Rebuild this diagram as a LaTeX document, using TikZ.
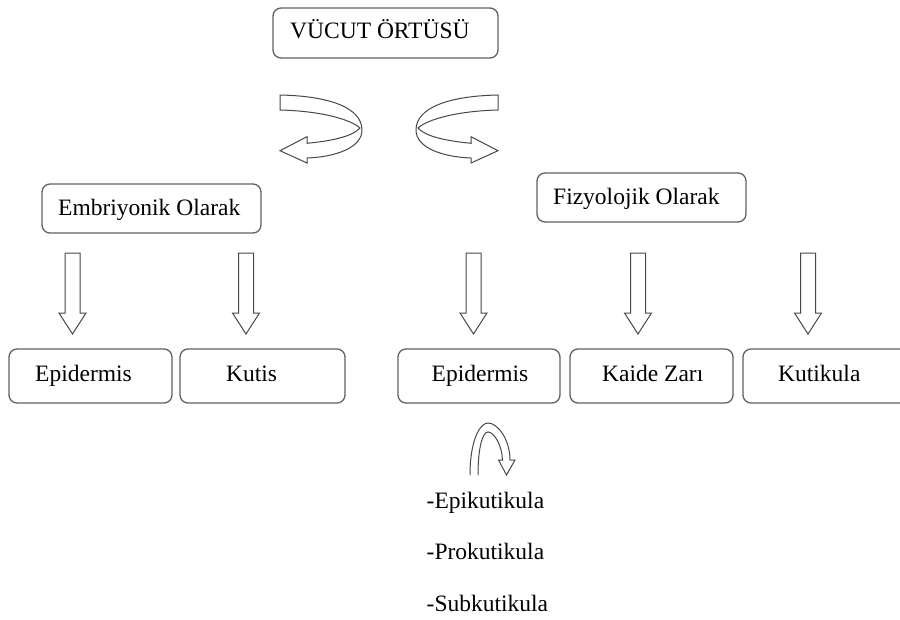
\documentclass[tikz,border=0pt]{standalone}
\usepackage{fontspec}
\setmainfont{Liberation Serif}
\begin{document}
\begin{tikzpicture}[x=1pt,y=-1pt,
  box/.style={draw=black!62,line width=1.3pt,rounded corners=8pt},
  lbl/.style={anchor=base west,inner sep=0pt,font=\fontsize{23.5}{28}\selectfont,text=black},
  arrowline/.style={draw=black!72,line width=1pt,line join=miter,fill=white},
  blockarrow/.pic={\path[arrowline] (-7.5,0) -- (-7.5,60) -- (-13.5,60) -- (0,81) -- (13.5,60) -- (7.5,60) -- (7.5,0) -- cycle;},
  ribbon/.pic={\path[arrowline] (0,0) .. controls (50,1) and (82,13) .. (82,35)
      .. controls (82,53) and (55,62) .. (27,63) -- (27,68) -- (0,55.7) -- (27,41.7) -- (27,48.3)
      .. controls (50,46) and (72,42) .. (80,33)
      .. controls (70,24) and (40,16) .. (0,15) -- cycle;}
]
\useasboundingbox (0,0) rectangle (900,619);
% boxes
\node[box,minimum width=225pt,minimum height=50pt] (top) at (385.5,33) {};
\node[box,minimum width=219pt,minimum height=49pt] (emb) at (151.5,208.5) {};
\node[box,minimum width=209pt,minimum height=49pt] (fiz) at (641.5,197.5) {};
\node[box,minimum width=163pt,minimum height=54pt] (epi1) at (90.5,376) {};
\node[box,minimum width=165pt,minimum height=54pt] (kut) at (262.5,376) {};
\node[box,minimum width=162pt,minimum height=54pt] (epi2) at (479,376) {};
\node[box,minimum width=163pt,minimum height=54pt] (kai) at (651.5,376) {};
\node[box,minimum width=170pt,minimum height=54pt] (ktk) at (828,376) {};
% labels
\node[lbl] (ttop) at (290,38.5) {VÜCUT ÖRTÜSÜ};
\node[lbl] (temb) at (58,215) {Embriyonik Olarak};
\node[lbl] (tfiz) at (553,204) {Fizyolojik Olarak};
\node[lbl] (tepi1) at (35,381.5) {Epidermis};
\node[lbl] (tkut) at (226,381.5) {Kutis};
\node[lbl] (tepi2) at (431.5,381.5) {Epidermis};
\node[lbl] (tkai) at (602,381.5) {Kaide Zarı};
\node[lbl] (tktk) at (778,381.5) {Kutikula};
\node[lbl] (tepik) at (426.5,508) {-Epikutikula};
\node[lbl] (tprok) at (426.5,559) {-Prokutikula};
\node[lbl] (tsubk) at (426.5,611.5) {-Subkutikula};
% curved arrows
\pic at (280,95) {ribbon};
\pic[xscale=-1] at (498,95) {ribbon};
% block arrows
\pic at (72.5,253) {blockarrow};
\pic at (246,253) {blockarrow};
\pic at (473.5,253) {blockarrow};
\pic at (638,253) {blockarrow};
\pic at (808,253) {blockarrow};
% small curved arrow
\path[arrowline,fill=none] (470,475) .. controls (470,440) and (480,423) .. (488,423)
  .. controls (498,423) and (510,440) .. (510,460) -- (515,460) -- (506.5,475) -- (498.5,460) -- (502.5,460)
  .. controls (502,445) and (494,432) .. (488,432) .. controls (482,432) and (478,450) .. (478,475);
\end{tikzpicture}
\end{document}
